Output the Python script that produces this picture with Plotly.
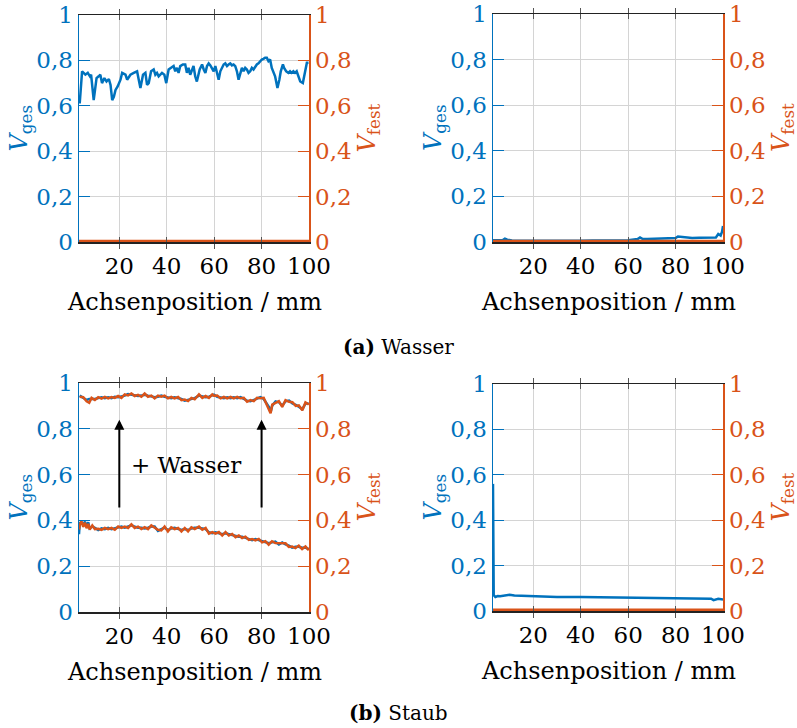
import plotly.graph_objects as go

BLUE = "#0072BD"
ORANGE = "#D95319"
FONT = "DejaVu Serif"

# ---------------- data ----------------
x_ticks = [20, 40, 60, 80, 100]
x_ticktext = ["20", "40", "60", "80", "100"]
y_ticks = [0, 0.2, 0.4, 0.6, 0.8, 1.0]
y_ticktext = ["0", "0,2", "0,4", "0,6", "0,8", "1"]

# (a) Wasser, left panel: V_ges
x_a1 = [3.3, 4.3, 5.7, 6.7, 7.6, 8.1, 9.2, 10.4, 11.3, 12.0, 12.7, 13.7, 14.6, 15.6, 16.3, 17.0, 17.7, 18.4, 19.3, 20.5,
        21.2, 22.6, 23.3, 24.7, 26.1, 27.5, 28.2, 28.9, 30.0, 31.0, 31.7, 32.4, 33.4, 34.5, 35.2, 35.9, 36.6, 37.3, 38.0, 39.0,
        39.8, 40.8, 41.8, 42.9, 43.6, 44.3, 45.0, 45.7, 46.8, 47.8, 48.5, 49.2, 49.9, 50.6, 51.3, 52.0, 52.7, 53.9, 54.9, 55.6,
        56.3, 57.0, 57.7, 58.4, 59.1, 59.8, 60.5, 61.2, 61.9, 62.6, 63.3, 64.0, 64.7, 65.4, 66.1, 66.8, 67.5, 68.2, 68.9, 69.6,
        70.3, 71.0, 71.7, 72.4, 73.1, 73.8, 74.5, 75.2, 75.9, 76.6, 77.3, 78.0, 78.7, 79.4, 80.1, 80.8, 81.5, 82.2, 82.9, 83.6,
        84.3, 85.7, 86.7, 87.5, 88.1, 89.0, 89.5, 90.4, 91.3, 92.0, 92.7, 93.4, 94.1, 94.8, 95.6, 96.3, 97.4, 98.4, 99.1, 99.8]
vges_a1 = [0.610, 0.752, 0.737, 0.745, 0.730, 0.737, 0.625, 0.722, 0.730, 0.737, 0.700, 0.722, 0.707, 0.718, 0.692, 0.625, 0.640, 0.670, 0.685, 0.715,
           0.745, 0.737, 0.715, 0.737, 0.745, 0.752, 0.715, 0.678, 0.737, 0.745, 0.692, 0.700, 0.752, 0.760, 0.737, 0.745, 0.730, 0.737, 0.745, 0.737,
           0.700, 0.760, 0.767, 0.775, 0.752, 0.767, 0.745, 0.775, 0.782, 0.782, 0.745, 0.767, 0.737, 0.760, 0.775, 0.730, 0.707, 0.760, 0.782, 0.760,
           0.745, 0.775, 0.787, 0.778, 0.767, 0.752, 0.775, 0.745, 0.715, 0.752, 0.767, 0.782, 0.787, 0.775, 0.782, 0.787, 0.778, 0.782, 0.775, 0.752,
           0.715, 0.745, 0.767, 0.752, 0.767, 0.760, 0.745, 0.752, 0.767, 0.760, 0.772, 0.782, 0.787, 0.797, 0.804, 0.807, 0.812, 0.812, 0.797, 0.804,
           0.767, 0.730, 0.678, 0.715, 0.752, 0.782, 0.767, 0.752, 0.745, 0.752, 0.745, 0.752, 0.745, 0.752, 0.730, 0.707, 0.700, 0.752, 0.790, 0.790]

# flat V_fest series (near zero)
x_flat = [3, 10, 20, 30, 40, 50, 60, 70, 80, 90, 100]
vfest_a1 = [0.003, 0.003, 0.003, 0.003, 0.003, 0.003, 0.003, 0.003, 0.003, 0.003, 0.003]
vfest_a2 = [0.003, 0.003, 0.003, 0.003, 0.003, 0.003, 0.003, 0.003, 0.003, 0.003, 0.003]
vfest_b2 = [0.004, 0.004, 0.004, 0.004, 0.004, 0.004, 0.004, 0.004, 0.004, 0.004, 0.004]

# (a) Wasser, right panel: V_ges
x_a2 = [3, 5, 7, 8, 9, 11, 15, 20, 25, 30, 35, 40, 45, 50, 55, 60, 62, 64, 65, 66,
        68, 70, 72, 75, 78, 80, 81, 83, 85, 87, 90, 92, 94, 96, 97, 98, 99, 99.6, 100]
vges_a2 = [0.008, 0.009, 0.008, 0.015, 0.010, 0.007, 0.006, 0.006, 0.005, 0.006, 0.005, 0.006, 0.007, 0.006, 0.007, 0.008, 0.010, 0.013, 0.020, 0.014,
           0.013, 0.014, 0.015, 0.016, 0.015, 0.017, 0.024, 0.022, 0.020, 0.018, 0.019, 0.020, 0.018, 0.019, 0.020, 0.035, 0.028, 0.045, 0.070]

# (b) Staub, left panel: upper (+ Wasser) and lower
x_b1_up = [3.3, 4.8, 6.2, 7.3, 8.3, 9.7, 11.1, 12.5, 13.9, 15.3, 16.7, 18.1, 19.5, 20.9, 22.3, 23.7, 25.1, 26.5, 27.9, 29.3,
           30.7, 32.1, 33.5, 34.9, 36.3, 37.7, 39.1, 40.5, 41.9, 43.3, 44.8, 46.2, 47.6, 49.0, 50.4, 51.8, 53.6, 55.0, 56.4, 57.8,
           59.2, 59.9, 61.3, 62.7, 64.1, 65.5, 66.9, 68.3, 69.7, 71.1, 72.5, 73.9, 75.3, 76.7, 78.1, 79.5, 80.9, 81.9, 83.1, 83.8,
           84.5, 85.9, 87.3, 88.7, 90.1, 91.6, 93.0, 94.4, 95.7, 97.2, 98.5, 99.9]
vges_b1_up = [0.945, 0.934, 0.926, 0.930, 0.930, 0.930, 0.934, 0.938, 0.934, 0.938, 0.934, 0.940, 0.938, 0.940, 0.945, 0.952, 0.949, 0.948, 0.943, 0.945,
              0.949, 0.945, 0.940, 0.938, 0.940, 0.945, 0.940, 0.938, 0.934, 0.938, 0.934, 0.930, 0.923, 0.926, 0.930, 0.934, 0.945, 0.940, 0.938, 0.940,
              0.945, 0.949, 0.940, 0.938, 0.934, 0.938, 0.934, 0.938, 0.934, 0.938, 0.930, 0.923, 0.920, 0.926, 0.930, 0.938, 0.930, 0.916, 0.895, 0.872,
              0.901, 0.920, 0.916, 0.901, 0.920, 0.923, 0.911, 0.905, 0.897, 0.886, 0.910, 0.911]
vfest_b1_up = [0.940, 0.938, 0.920, 0.914, 0.935, 0.926, 0.938, 0.932, 0.939, 0.933, 0.939, 0.935, 0.943, 0.935, 0.950, 0.946, 0.954, 0.943, 0.948, 0.940,
               0.954, 0.940, 0.945, 0.933, 0.945, 0.940, 0.945, 0.933, 0.939, 0.933, 0.939, 0.925, 0.928, 0.921, 0.935, 0.929, 0.950, 0.935, 0.943, 0.935,
               0.950, 0.944, 0.945, 0.933, 0.939, 0.933, 0.939, 0.933, 0.939, 0.933, 0.935, 0.918, 0.925, 0.921, 0.935, 0.933, 0.935, 0.910, 0.885, 0.868,
               0.906, 0.915, 0.921, 0.896, 0.925, 0.918, 0.916, 0.900, 0.902, 0.881, 0.915, 0.906]

x_b1_lo = [3.0, 3.3, 4.0, 4.8, 5.5, 6.2, 6.9, 7.5, 8.6, 9.7, 11.1, 12.5, 13.9, 15.3, 16.7, 18.1, 19.5, 20.9, 22.3, 23.7,
           25.1, 26.5, 27.9, 29.3, 30.7, 32.1, 33.5, 34.9, 36.3, 37.7, 39.1, 40.5, 41.9, 43.3, 44.8, 46.2, 47.6, 49.0, 50.4, 51.8,
           53.6, 55.0, 56.4, 57.8, 59.2, 60.6, 62.0, 63.4, 64.8, 66.2, 67.6, 69.0, 70.4, 71.8, 73.2, 74.6, 76.0, 77.4, 78.8, 80.2,
           81.6, 83.0, 84.4, 85.8, 87.3, 88.7, 90.1, 91.5, 92.9, 94.3, 95.7, 97.1, 98.5, 99.9]
vges_b1_lo = [0.340, 0.387, 0.392, 0.380, 0.395, 0.373, 0.392, 0.365, 0.373, 0.368, 0.358, 0.365, 0.362, 0.368, 0.362, 0.365, 0.368, 0.373, 0.368, 0.373,
              0.378, 0.373, 0.368, 0.368, 0.365, 0.368, 0.373, 0.373, 0.354, 0.362, 0.368, 0.358, 0.365, 0.368, 0.362, 0.358, 0.362, 0.358, 0.365, 0.368,
              0.368, 0.365, 0.362, 0.348, 0.344, 0.348, 0.344, 0.340, 0.344, 0.340, 0.336, 0.333, 0.329, 0.329, 0.324, 0.321, 0.314, 0.319, 0.314, 0.310,
              0.304, 0.300, 0.304, 0.307, 0.295, 0.304, 0.295, 0.290, 0.281, 0.285, 0.285, 0.281, 0.281, 0.275]
vfest_b1_lo = [0.360, 0.380, 0.397, 0.372, 0.390, 0.366, 0.385, 0.360, 0.378, 0.362, 0.363, 0.359, 0.367, 0.362, 0.367, 0.359, 0.373, 0.367, 0.373, 0.367,
               0.383, 0.367, 0.373, 0.362, 0.370, 0.362, 0.378, 0.367, 0.359, 0.356, 0.373, 0.352, 0.370, 0.362, 0.367, 0.352, 0.367, 0.352, 0.370, 0.362,
               0.373, 0.359, 0.367, 0.342, 0.349, 0.342, 0.349, 0.334, 0.349, 0.334, 0.341, 0.327, 0.334, 0.323, 0.329, 0.315, 0.319, 0.313, 0.319, 0.304,
               0.309, 0.294, 0.309, 0.301, 0.300, 0.298, 0.300, 0.284, 0.286, 0.279, 0.290, 0.275, 0.286, 0.270]

# (b) Staub, right panel: V_ges
x_b2 = [3, 3.3, 4, 5, 6, 8, 10, 12, 15, 20, 25, 30, 40, 50, 60, 70, 80, 90, 95, 96, 98, 100]
vges_b2 = [0.56, 0.070, 0.062, 0.066, 0.065, 0.068, 0.072, 0.068, 0.067, 0.066, 0.062, 0.062, 0.062, 0.060, 0.060, 0.059, 0.057, 0.055, 0.054, 0.048, 0.054, 0.051]

# ---------------- figure ----------------
W, H = 797, 728
fig = go.Figure()


def line(x, y, xa, ya, color, w=2.5):
    fig.add_trace(go.Scatter(x=x, y=y, xaxis=xa, yaxis=ya, mode="lines",
                             line=dict(color=color, width=w), showlegend=False,
                             hoverinfo="skip"))


# panel A1
line(x_a1, vges_a1, "x", "y", BLUE)
line(x_flat, vfest_a1, "x", "y2", ORANGE, 3)
# panel A2
line(x_a2, vges_a2, "x2", "y3", BLUE)
line(x_flat, vfest_a2, "x2", "y4", ORANGE, 3)
# panel B1
line(x_b1_up, vges_b1_up, "x3", "y5", BLUE)
line(x_b1_lo, vges_b1_lo, "x3", "y5", BLUE)
line(x_b1_up, vfest_b1_up, "x3", "y6", ORANGE)
line(x_b1_lo, vfest_b1_lo, "x3", "y6", ORANGE)
# panel B2
line(x_b2, vges_b2, "x4", "y7", BLUE)
line(x_flat, vfest_b2, "x4", "y8", ORANGE, 3)

panels = [
    ("x", "y", "y2", (79, 309), (15, 242)),
    ("x2", "y3", "y4", (493, 723), (14, 242)),
    ("x3", "y5", "y6", (79, 309), (383, 612)),
    ("x4", "y7", "y8", (493, 723), (384, 611)),
]

GRID = "#d4d4d4"
layout = dict(width=W, height=H, margin=dict(l=0, r=0, t=0, b=0, autoexpand=False),
              template="none",
              paper_bgcolor="white", plot_bgcolor="white", showlegend=False)
annotations = []


def key(a):
    return a.replace("x", "xaxis").replace("y", "yaxis")


for xa, yl, yr, (l, r), (t, b) in panels:
    xd = [l / W, r / W]
    yd = [1 - b / H, 1 - t / H]
    layout[key(xa)] = dict(domain=xd, anchor=yl, range=[3, 100], automargin=False,
                           tickvals=x_ticks, ticktext=x_ticktext,
                           showgrid=True, gridcolor=GRID, gridwidth=1,
                           showline=True, linecolor="#222", linewidth=1.5, mirror="allticks",
                           ticks="inside", ticklen=5, tickcolor="#555",
                           tickfont=dict(family=FONT, size=23, color="black"),
                           ticklabelstandoff=3, zeroline=False)
    layout[key(yl)] = dict(domain=yd, anchor=xa, range=[0, 1], automargin=False,
                           tickvals=y_ticks, ticktext=y_ticktext,
                           showgrid=True, gridcolor=GRID, gridwidth=1,
                           showline=True, linecolor=BLUE, linewidth=1.5,
                           ticks="inside", ticklen=11, tickcolor=BLUE,
                           tickfont=dict(family=FONT, size=23, color=BLUE),
                           zeroline=False)
    layout[key(yr)] = dict(overlaying=yl, side="right", anchor=xa, range=[0, 1], automargin=False,
                           tickvals=y_ticks, ticktext=y_ticktext,
                           showgrid=False,
                           showline=True, linecolor=ORANGE, linewidth=1.5,
                           ticks="inside", ticklen=11, tickcolor=ORANGE,
                           tickfont=dict(family=FONT, size=23, color=ORANGE),
                           zeroline=False)
    yc = (t + b) / 2
    annotations.append(dict(xref="paper", yref="paper", x=(l - 59) / W, y=1 - yc / H,
                            text="<i>V</i><sub>ges</sub>", textangle=-90, showarrow=False,
                            font=dict(family=FONT, size=24, color=BLUE),
                            xanchor="center", yanchor="middle"))
    annotations.append(dict(xref="paper", yref="paper", x=(r + 59) / W, y=1 - yc / H,
                            text="<i>V</i><sub>fest</sub>", textangle=-90, showarrow=False,
                            font=dict(family=FONT, size=24, color=ORANGE),
                            xanchor="center", yanchor="middle"))
    annotations.append(dict(xref="paper", yref="paper", x=(l + r) / 2 / W, y=1 - (b + 60) / H,
                            text="Achsenposition / mm", showarrow=False,
                            font=dict(family=FONT, size=24, color="black"),
                            xanchor="center", yanchor="middle"))

annotations.append(dict(xref="paper", yref="paper", x=398 / W, y=1 - 347 / H,
                        text="<b>(a)</b> Wasser", showarrow=False,
                        font=dict(family=FONT, size=20, color="black"),
                        xanchor="center", yanchor="middle"))
annotations.append(dict(xref="paper", yref="paper", x=398 / W, y=1 - 713 / H,
                        text="<b>(b)</b> Staub", showarrow=False,
                        font=dict(family=FONT, size=20, color="black"),
                        xanchor="center", yanchor="middle"))

# "+ Wasser" label and arrows in panel B1
annotations.append(dict(xref="x3", yref="y5", x=48, y=0.64, text="+ Wasser", showarrow=False,
                        font=dict(family=FONT, size=23, color="black")))
for ax_pos in [20, 80]:
    annotations.append(dict(xref="x3", yref="y5", x=ax_pos, y=0.84, axref="x3", ayref="y5",
                            ax=ax_pos, ay=0.45, text="", showarrow=True, arrowhead=2,
                            arrowsize=1, arrowwidth=2, arrowcolor="black"))

layout["annotations"] = annotations
fig.update_layout(**layout)
fig.write_html("out.html",
               config={"displayModeBar": False, "staticPlot": True},
               post_script="document.body.style.margin='0px';document.body.style.overflow='hidden';")
